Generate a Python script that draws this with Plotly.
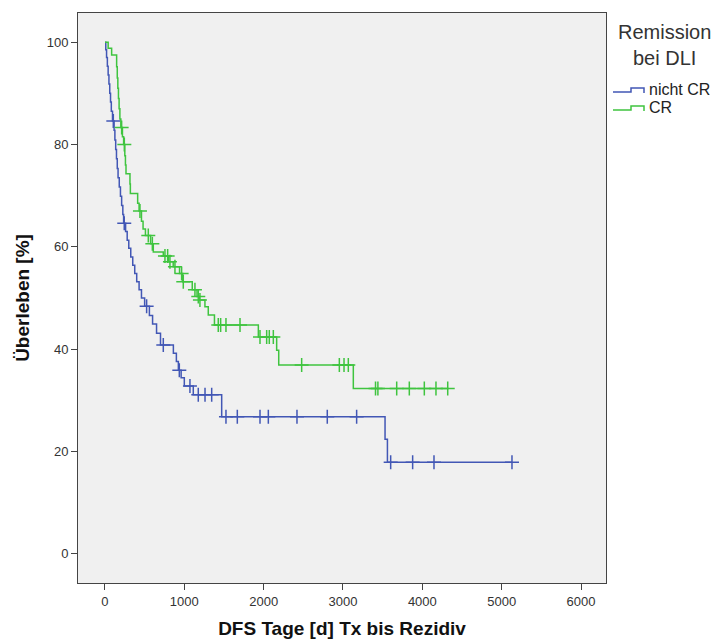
import plotly.graph_objects as go
import numpy as np

# ---- data: Kaplan-Meier step points (day, survival %) ----
blue_days = [0, 10, 20, 30, 40, 50, 60, 70, 80, 95, 115, 125, 135, 145, 155, 165, 180, 195,
             210, 225, 235, 260, 280, 300, 325, 350, 375, 400, 430, 460, 500, 560, 600, 650,
             700, 862, 900, 925, 960, 1000, 1113, 1471, 3530, 3560, 5130]
blue_surv = [100, 98.5, 97, 95.3, 93.6, 91.8, 90, 88.3, 86.5, 84.6, 82.8, 80.9, 79, 77.2,
             75.3, 73.5, 71.7, 69.9, 68.1, 66.3, 64.6, 63, 61.3, 59.7, 58, 56.4, 54.8, 53.2,
             51.6, 50, 48.4, 46.6, 44.9, 43.1, 40.8, 39.2, 37.6, 35.9, 34.4, 32.8, 31.1, 26.8,
             22.4, 17.9, 17.9]
blue_censored = [105, 243, 525, 735, 937, 1071, 1176, 1261, 1345, 1525, 1668, 1954, 2059,
                 2420, 2802, 3172, 3601, 3878, 4147, 5130]

green_days = [0, 40, 84, 147, 155, 162, 170, 178, 188, 200, 220, 235, 250, 258, 265, 315,
              320, 412, 430, 460, 480, 510, 575, 609, 735, 800, 860, 940, 980, 1100, 1160,
              1190, 1260, 1302, 1380, 1933, 2164, 2190, 3130, 4330]
green_surv = [100, 98.8, 97.5, 95.2, 93, 91, 89, 87, 85, 83.3, 81.5, 80, 77.8, 76, 74.3,
              72.3, 70.4, 68.5, 67, 65, 63.5, 62.2, 60.6, 59, 58.2, 57.1, 56.1, 54.8, 53.2,
              51.6, 50.3, 49.6, 48.3, 46.7, 44.7, 42.4, 39.8, 36.9, 32.3, 32.3]
green_censored = [210, 244, 441, 546, 597, 756, 790, 819, 882, 966, 987, 1134, 1176, 1197,
                  1428, 1458, 1525, 1702, 1954, 2038, 2071, 2122, 2479, 2954, 3013, 3067,
                  3410, 3440, 3677, 3836, 4025, 4172, 4320]

x_ticks = [0, 1000, 2000, 3000, 4000, 5000, 6000]
y_ticks = [0, 20, 40, 60, 80, 100]

group_names = ["nicht CR", "CR"]
legend_title = "Remission<br>bei DLI"
BLUE = "#4257B5"
GREEN = "#3FC43F"
FONT = "Liberation Sans, Arial"


def step_value(days, surv, t):
    idx = np.searchsorted(np.array(days), t, side="right") - 1
    return surv[max(idx, 0)]


fig = go.Figure()
for days, surv, cens, col, name in [
    (blue_days, blue_surv, blue_censored, BLUE, group_names[0]),
    (green_days, green_surv, green_censored, GREEN, group_names[1]),
]:
    fig.add_trace(go.Scatter(x=days, y=surv, mode="lines", line=dict(shape="hv", color=col, width=1.5),
                             name=name, showlegend=False, hoverinfo="skip"))
    fig.add_trace(go.Scatter(x=cens, y=[step_value(days, surv, t) for t in cens], mode="markers",
                             marker=dict(symbol="cross-thin", size=10, line=dict(color=col, width=1.5)),
                             name=name + " zensiert", showlegend=False))

axis_common = dict(showgrid=False, zeroline=False, showline=True, mirror=True, linecolor="#444",
                   linewidth=1, ticks="outside", ticklen=6, tickcolor="#444", automargin=False,
                   tickfont=dict(family=FONT, size=13, color="#333"))

fig.update_xaxes(range=[-340, 6315], tickvals=x_ticks, **axis_common,
                 title=dict(text="<b>DFS Tage [d] Tx bis Rezidiv</b>", standoff=14,
                            font=dict(family=FONT, size=19, color="#111")))
fig.update_yaxes(range=[-5.7, 105.7], tickvals=y_ticks, **axis_common,
                 title=dict(text="<b>Überleben [%]</b>", standoff=12,
                            font=dict(family=FONT, size=19, color="#111")))

L, R, T, B = 78, 109, 13, 59
W, H = 715, 642
pw, ph = W - L - R, H - T - B


def px(x):
    return (x - L) / pw


def py(y):
    return 1 - (y - T) / ph


# legend (custom, with step-shaped icons)
fig.add_annotation(xref="paper", yref="paper", x=px(664), y=py(45), xanchor="center", yanchor="middle",
                   text=legend_title, showarrow=False, align="center",
                   font=dict(family=FONT, size=20, color="#333"))
for i, (name, col) in enumerate(zip(group_names, [BLUE, GREEN])):
    yc = 92 + i * 18
    fig.add_shape(type="path", xref="paper", yref="paper",
                  path=f"M {px(613)} {py(yc)} L {px(631)} {py(yc)} L {px(631)} {py(yc-4)} "
                       f"L {px(644)} {py(yc-4)} L {px(644)} {py(yc+1)}",
                  line=dict(color=col, width=1.5))
    fig.add_annotation(xref="paper", yref="paper", x=px(647), y=py(yc - 2), xanchor="left",
                       yanchor="middle", text=name, showarrow=False,
                       font=dict(family=FONT, size=16, color="#222"))

fig.update_layout(width=W, height=H, margin=dict(l=L, r=R, t=T, b=B, autoexpand=False),
                  paper_bgcolor="white", plot_bgcolor="#F0F0F0", showlegend=False)

fig.write_html("out.html")
